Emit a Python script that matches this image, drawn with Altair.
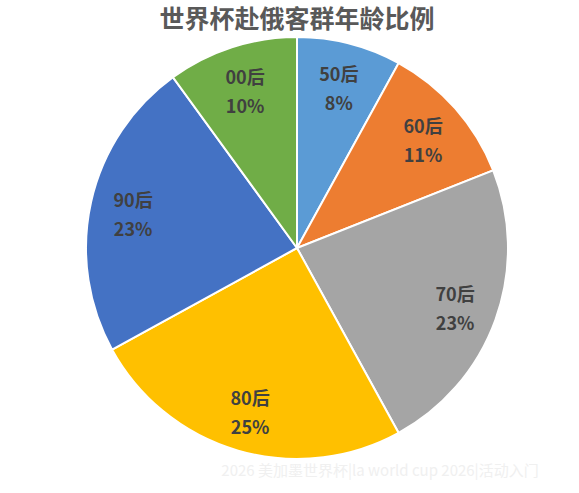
import altair as alt
import pandas as pd

categories = ["50后", "60后", "70后", "80后", "90后", "00后"]
values = [8, 11, 23, 25, 23, 10]
colors = ["#5B9BD5", "#ED7D31", "#A5A5A5", "#FFC000", "#4472C4", "#70AD47"]

df = pd.DataFrame({
    "cat": categories,
    "val": values,
    "idx": list(range(len(categories))),
    "label": [f"{c}\n{v}%" for c, v in zip(categories, values)],
})

CX, CY, R = 297, 248, 211

base = alt.Chart(df).encode(
    theta=alt.Theta("val:Q", stack=True),
    order=alt.Order("idx:Q"),
)

arcs = base.mark_arc(outerRadius=R, stroke="white", strokeWidth=2).encode(
    x=alt.value(CX),
    y=alt.value(CY),
    color=alt.Color("cat:N", scale=alt.Scale(domain=categories, range=colors), legend=None),
)

labels = base.mark_text(
    radius=168, dy=-9, lineBreak="\n", lineHeight=29, fontSize=18, fontWeight="bold",
    color="#404040", font="Noto Sans CJK SC", align="center", baseline="middle",
).encode(
    x=alt.value(CX),
    y=alt.value(CY),
    text="label:N",
)

title = alt.Chart(pd.DataFrame({"t": ["世界杯赴俄客群年龄比例"]})).mark_text(
    fontSize=25, fontWeight="bold", color="#595959", font="Noto Sans CJK SC",
    align="center", baseline="middle",
).encode(x=alt.value(CX), y=alt.value(20), text="t:N")

wm = alt.Chart(pd.DataFrame({"t": ["2026 美加墨世界杯|la world cup 2026|活动入门"]})).mark_text(
    fontSize=15, color="#f0f0f0", font="Noto Sans CJK SC", align="center", baseline="middle",
).encode(x=alt.value(380), y=alt.value(471), text="t:N")

chart = alt.layer(arcs, labels, title, wm).properties(
    width=579, height=493, autosize=alt.AutoSizeParams(type="none"), padding=0, background="white"
).configure_view(stroke=None)

chart.save("out.html", embed_options={"renderer": "svg", "actions": False})
